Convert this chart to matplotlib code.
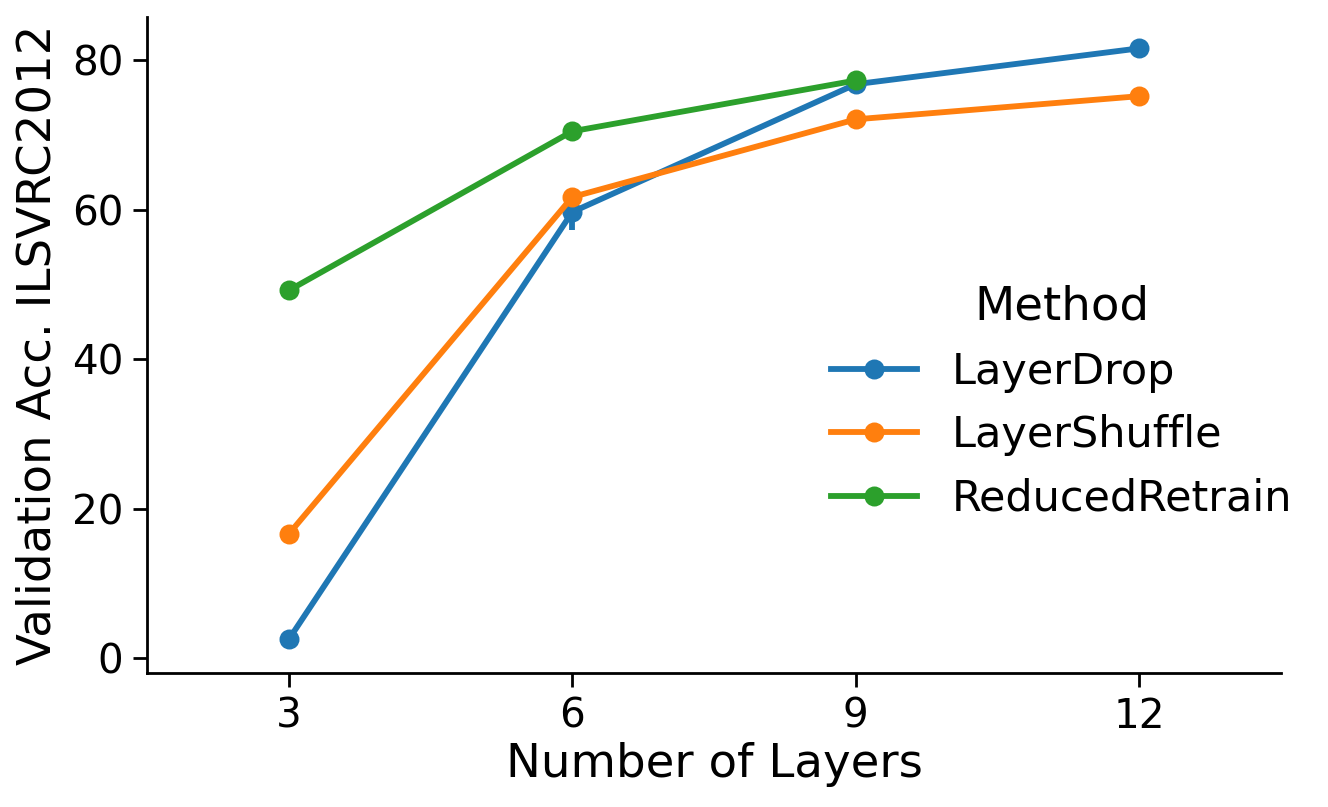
import matplotlib.pyplot as plt
import numpy as np

# data
layers = [3, 6, 9, 12]
methods = ['LayerDrop', 'LayerShuffle', 'ReducedRetrain']
colors = ['#1f77b4', '#ff7f0e', '#2ca02c']

layerdrop = [2.5, 59.7, 76.8, 81.6]
layershuffle = [16.6, 61.7, 72.1, 75.2]
reducedretrain = [49.2, 70.5, 77.3]

# error interval of LayerDrop at 6 layers
err_low = [2.5, 57.3, 76.8, 81.6]
err_high = [2.5, 61.8, 76.8, 81.6]

values = [layerdrop, layershuffle, reducedretrain]

fig = plt.figure(figsize=(6.64, 4.035), dpi=200)
ax = fig.add_axes([0.1107, 0.166, 0.854, 0.813])

pos = np.arange(len(layers))

# error bars
ax.vlines(pos, err_low, err_high, color=colors[0], lw=2.1, zorder=2)

for name, vals, c in zip(methods, values, colors):
    x = pos[:len(vals)]
    ax.plot(x, vals, '-o', color=c, lw=2.1, ms=6.2, label=name, zorder=3)

ax.set_xticks(pos)
ax.set_xticklabels([str(l) for l in layers])
ax.set_xlim(-0.5, 3.5)
ax.set_ylim(-2, 85.8)
ax.set_yticks([0, 20, 40, 60, 80])

ax.spines['top'].set_visible(False)
ax.spines['right'].set_visible(False)
ax.tick_params(labelsize=14.6, width=1.0, length=5)
for s in ['left', 'bottom']:
    ax.spines[s].set_linewidth(1.0)

ax.set_xlabel('Number of Layers', fontsize=16.8, labelpad=2)
ax.set_ylabel('Validation Acc. ILSVRC2012', fontsize=16.8, labelpad=4)

leg = ax.legend(title='Method', frameon=False, fontsize=15.5, title_fontsize=16.8,
                loc='center left', bbox_to_anchor=(0.569, 0.413))

fig.savefig('out.png', dpi=200)
